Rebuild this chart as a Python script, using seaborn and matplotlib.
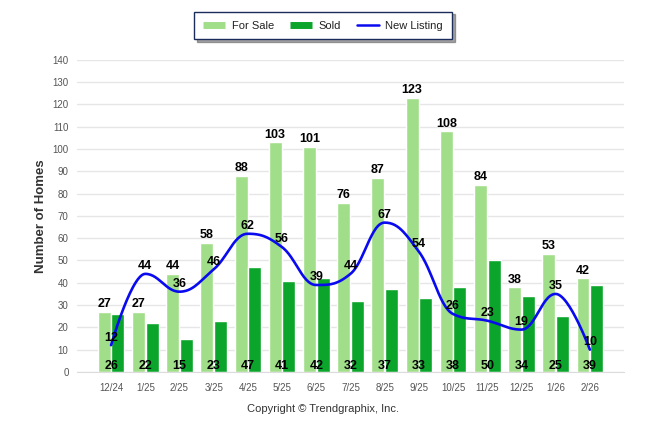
import numpy as np
import pandas as pd
import seaborn as sns
import matplotlib.pyplot as plt
from matplotlib.lines import Line2D

months = ["12/24", "1/25", "2/25", "3/25", "4/25", "5/25", "6/25", "7/25",
          "8/25", "9/25", "10/25", "11/25", "12/25", "1/26", "2/26"]
for_sale = [27, 27, 44, 58, 88, 103, 101, 76, 87, 123, 108, 84, 38, 53, 42]
sold = [26, 22, 15, 23, 47, 41, 42, 32, 37, 33, 38, 50, 34, 25, 39]
new_listing = [12, 44, 36, 46, 62, 56, 39, 44, 67, 54, 26, 23, 19, 35, 10]

C_SALE = "#a1de8a"
C_SOLD = "#0aa52a"
C_LINE = "#0a0af0"


def spline_path(xs, ys, smoothing=1.5, n=30):
    # bezier spline through the points, control points like a web chart "spline"
    xs = np.asarray(xs, float)
    ys = np.asarray(ys, float)
    m = len(xs)
    lx, ly = xs.copy(), ys.copy()
    rx, ry = xs.copy(), ys.copy()
    d = smoothing + 1
    for i in range(1, m - 1):
        px, py = xs[i], ys[i]
        lastx, lasty = xs[i - 1], ys[i - 1]
        nextx, nexty = xs[i + 1], ys[i + 1]
        lcx = (smoothing * px + lastx) / d
        lcy = (smoothing * py + lasty) / d
        rcx = (smoothing * px + nextx) / d
        rcy = (smoothing * py + nexty) / d
        if rcx != lcx:
            corr = (rcy - lcy) * (rcx - px) / (rcx - lcx) + py - rcy
            lcy += corr
            rcy += corr
            if lcy > lasty and lcy > py:
                lcy = max(lasty, py)
                rcy = 2 * py - lcy
            elif lcy < lasty and lcy < py:
                lcy = min(lasty, py)
                rcy = 2 * py - lcy
            if rcy > nexty and rcy > py:
                rcy = max(nexty, py)
                lcy = 2 * py - rcy
            elif rcy < nexty and rcy < py:
                rcy = min(nexty, py)
                lcy = 2 * py - rcy
        lx[i], ly[i], rx[i], ry[i] = lcx, lcy, rcx, rcy
    t = np.linspace(0, 1, n)[:, None]
    out_x, out_y = [], []
    for i in range(m - 1):
        P = np.array([[xs[i], ys[i]], [rx[i], ry[i]],
                      [lx[i + 1], ly[i + 1]], [xs[i + 1], ys[i + 1]]])
        B = ((1 - t) ** 3) * P[0] + 3 * ((1 - t) ** 2) * t * P[1] \
            + 3 * (1 - t) * t ** 2 * P[2] + t ** 3 * P[3]
        out_x.extend(B[:, 0])
        out_y.extend(B[:, 1])
    return np.array(out_x), np.array(out_y)


df = pd.DataFrame({
    "Month": months * 2,
    "Homes": for_sale + sold,
    "Type": ["For Sale"] * len(months) + ["Sold"] * len(months),
})

sns.set_style("white")
plt.rcParams["font.family"] = ["Liberation Sans", "DejaVu Sans"]

fig = plt.figure(figsize=(6.46, 4.34), dpi=100)
ax = fig.add_axes([0.119, 0.143, 0.847, 0.719])

sns.barplot(data=df, x="Month", y="Homes", hue="Type",
            palette={"For Sale": C_SALE, "Sold": C_SOLD},
            width=0.8, gap=0.05, saturation=1, legend=False, ax=ax)

xpos = np.arange(len(months))
sx, sy = spline_path(xpos, new_listing)
ax.plot(sx, sy, color=C_LINE, lw=1.9, zorder=4, solid_capstyle="round")

lbl = dict(ha="center", va="center", fontsize=9, fontweight="bold",
           color="black", textcoords="offset points", zorder=5)
for i in range(len(months)):
    ax.annotate(str(for_sale[i]), (i - 0.2, for_sale[i]), xytext=(0, 5.5), **lbl)
    ax.annotate(str(sold[i]), (i, 0), xytext=(0, 4.5), **lbl)
    ax.annotate(str(new_listing[i]), (i, new_listing[i]), xytext=(0, 5.5), **lbl)

ax.set_xlim(-1, 15)
ax.set_ylim(0, 140)
ax.set_yticks(range(0, 141, 10))
ax.set_xticks(range(-1, 16))
ax.set_xticklabels([""] + months + [""])
ax.grid(axis="y", color="#e6e6e6", lw=1)
ax.set_axisbelow(True)
for s in ["top", "right", "left"]:
    ax.spines[s].set_visible(False)
ax.spines["bottom"].set_color("#dcdcdc")
ax.tick_params(axis="x", length=4, color="#d0d0d0", labelsize=7,
               labelcolor="#555555", pad=4)
ax.tick_params(axis="y", length=0, labelsize=7, labelcolor="#555555", pad=6)
ax.set_xlabel("")
ax.set_ylabel("Number of Homes", fontsize=9.5, fontweight="bold",
              color="#333333", labelpad=4)

handles = [
    Line2D([], [], color=C_SALE, lw=5, solid_capstyle="butt"),
    Line2D([], [], color=C_SOLD, lw=5, solid_capstyle="butt"),
    Line2D([], [], color=C_LINE, lw=1.8),
]
leg = fig.legend(handles, ["For Sale", "Sold", "New Listing"], ncol=3,
                 loc="upper center", bbox_to_anchor=(0.5, 0.986),
                 fontsize=8, frameon=True, fancybox=False, shadow=True,
                 handlelength=2.0, columnspacing=1.4, borderpad=0.8,
                 handletextpad=0.6, labelcolor="#222222")
leg.get_frame().set_edgecolor("#1c2d5c")
leg.get_frame().set_linewidth(1.0)

fig.text(0.5, 0.057, "Copyright \u00a9 Trendgraphix, Inc.", ha="center",
         va="center", fontsize=8, color="#333333")

fig.savefig("out.png", dpi=100)
plt.close(fig)
